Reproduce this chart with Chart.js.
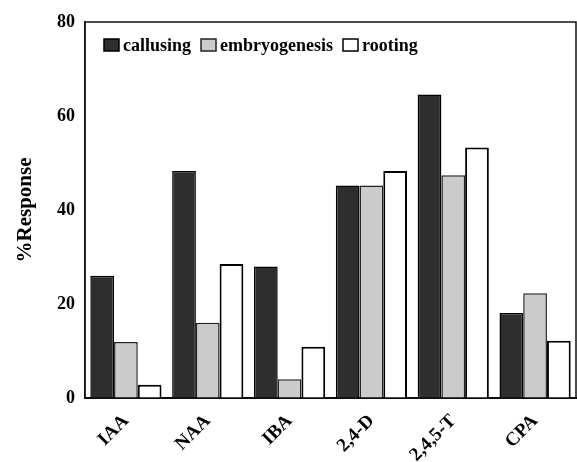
<!DOCTYPE html>
<html>
<head>
<meta charset="UTF-8">
<title>%Response</title>
<script src="https://cdn.jsdelivr.net/npm/chart.js"></script>
<style>
  html, body { margin: 0; padding: 0; background: #fff; }
  #wrap { width: 577px; height: 462px; }
</style>
</head>
<body>
<div id="wrap"><canvas id="responseChart"></canvas></div>
<script>
// Data
const categories = ["IAA", "NAA", "IBA", "2,4-D", "2,4,5-T", "CPA"];
const callusing = [26, 48.3, 28, 45.2, 64.6, 18.1];
const embryogenesis = [11.9, 16, 4, 45.2, 47.4, 22.3];
const rooting = [2.8, 28.5, 10.9, 48.3, 53.3, 12.2];
const yTicks = [0, 20, 40, 60, 80];

const serif = "'Liberation Serif', 'DejaVu Serif', serif";

// box around the plot + legend drawn inside the plot, one row
const frame = {
    id: 'frame',
    afterDraw(chart) {
        const a = chart.chartArea;
        const c = chart.ctx;
        c.save();
        c.strokeStyle = '#111';
        c.lineWidth = 1.5;
        c.strokeRect(a.left, a.top, a.right - a.left, a.bottom - a.top);

        // legend row
        c.font = "bold 18px " + serif;
        c.textBaseline = 'middle';
        let x = a.left + 19;
        const y = a.top + 23;
        chart.data.datasets.forEach(ds => {
            c.fillStyle = ds.backgroundColor;
            c.fillRect(x, y - 6, 15, 12);
            c.strokeStyle = ds.borderColor;
            c.lineWidth = 1.5;
            c.strokeRect(x, y - 6, 15, 12);
            c.fillStyle = '#000';
            c.fillText(ds.label, x + 19, y + 1);
            x += 19 + c.measureText(ds.label).width + 10;
        });
        c.restore();
    }
};

const ctx = document.getElementById('responseChart').getContext('2d');
new Chart(ctx, {
    type: 'bar',
    data: {
        labels: categories,
        datasets: [
            { label: 'callusing', data: callusing, backgroundColor: '#2e2e2e', borderColor: '#000', borderWidth: 1.5 },
            { label: 'embryogenesis', data: embryogenesis, backgroundColor: '#cbcbcb', borderColor: '#222', borderWidth: 1.5 },
            { label: 'rooting', data: rooting, backgroundColor: '#ffffff', borderColor: '#000', borderWidth: 2 }
        ]
    },
    options: {
        responsive: true,
        maintainAspectRatio: false,
        animation: false,
        layout: { padding: { top: 22, right: 1, left: 0, bottom: 0 } },
        datasets: { bar: { barPercentage: 1, categoryPercentage: 0.87 } },
        scales: {
            x: {
                grid: { display: false, drawTicks: false },
                border: { display: true, color: '#000', width: 2 },
                ticks: {
                    color: '#000',
                    font: { family: serif, size: 19, weight: 'bold' },
                    minRotation: 45,
                    maxRotation: 45,
                    padding: 12
                },
                afterFit(scale) { scale.height = 64; }
            },
            y: {
                min: 0,
                max: 80,
                grid: { display: false, drawTicks: false },
                border: { display: true, color: '#111', width: 1.5 },
                afterBuildTicks(scale) { scale.ticks = yTicks.map(v => ({ value: v })); },
                ticks: {
                    color: '#000',
                    font: { family: serif, size: 18, weight: 'bold' },
                    padding: 10
                },
                title: {
                    display: true,
                    text: '%Response',
                    color: '#000',
                    font: { family: serif, size: 21, weight: 'bold' },
                    padding: { top: 13, bottom: 0 }
                },
                afterFit(scale) { scale.width = 85; }
            }
        },
        plugins: {
            legend: { display: false },
            tooltip: { enabled: false }
        }
    },
    plugins: [frame]
});
</script>
</body>
</html>
